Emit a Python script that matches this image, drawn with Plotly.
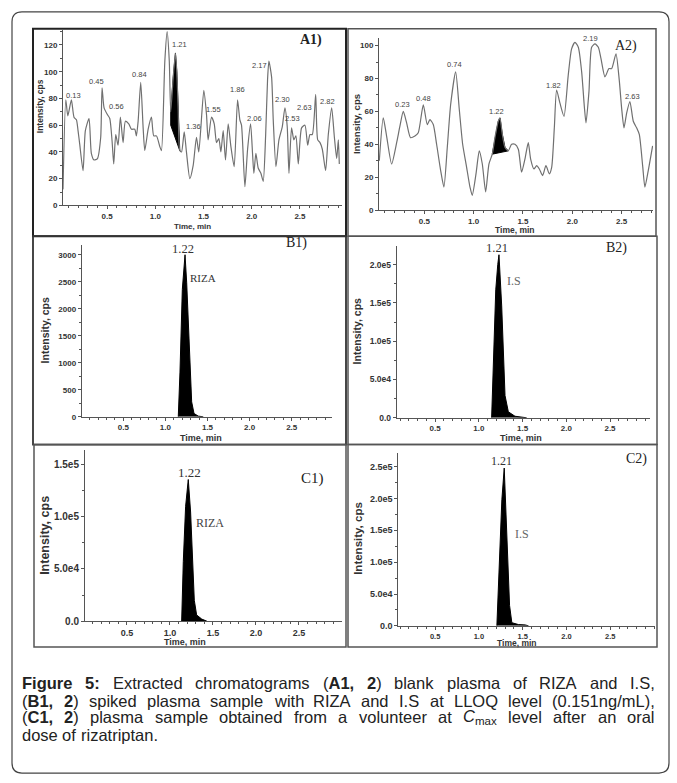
import re
import plotly.graph_objects as go

W, H = 677, 783

# ---------------- data ----------------
A1_time = [0.043,0.072,0.093,0.130,0.157,0.182,0.199,0.216,0.251,0.275,0.313,0.337,0.365,0.400,0.434,0.448,0.469,0.503,0.528,0.552,0.569,0.590,0.614,0.638,0.666,0.690,0.725,0.753,0.787,0.804,0.822,0.849,0.874,0.891,0.926,0.960,0.984,1.012,1.047,1.064,1.099,1.123,1.145,1.160,1.185,1.209,1.223,1.237,1.254,1.272,1.300,1.323,1.358,1.393,1.427,1.451,1.503,1.531,1.548,1.583,1.611,1.635,1.659,1.680,1.704,1.728,1.756,1.784,1.818,1.853,1.877,1.894,1.929,1.957,1.988,2.009,2.022,2.043,2.067,2.095,2.119,2.144,2.164,2.178,2.206,2.223,2.251,2.282,2.317,2.344,2.368,2.386,2.413,2.437,2.458,2.483,2.517,2.552,2.580,2.604,2.628,2.663,2.684,2.708,2.732,2.766,2.794,2.829,2.857,2.881,2.898,2.908]
A1_intensity = [12,79,67,79,66,64,56,46,26,56,65,39,34,35,51,88,73,68,65,48,31,53,45,66,47,63,61,57,57,52,63,92,58,41,57,66,52,52,44,41,108,130,108,70,95,114,100,73,41,40,55,40,20,30,51,40,86,68,49,66,61,47,50,40,56,34,61,44,29,79,64,60,14,42,61,38,24,39,28,24,18,52,94,108,96,64,29,49,59,73,59,24,58,49,52,31,58,60,45,53,53,83,49,47,42,26,53,73,51,35,49,31]
A1_peak_window = [1.160, 1.254]
A1_peak_baseline = [60, 41]
A1_labels = ["0.13","0.45","0.56","0.84","1.21","1.36","1.55","1.86","2.06","2.17","2.30","2.53","2.63","2.82"]
A1_label_t = [0.154,0.389,0.593,0.832,1.247,1.393,1.600,1.850,2.033,2.085,2.320,2.424,2.542,2.790]
A1_label_v = [82,93,74,98,120,59,72,87,65,105,79,65,73,78]

A2_time = [0.044,0.084,0.118,0.169,0.220,0.253,0.287,0.321,0.361,0.405,0.439,0.490,0.530,0.557,0.591,0.625,0.666,0.699,0.733,0.767,0.818,0.855,0.889,0.929,0.963,0.986,1.024,1.057,1.088,1.122,1.155,1.189,1.216,1.250,1.267,1.291,1.318,1.351,1.385,1.419,1.453,1.486,1.520,1.554,1.578,1.611,1.639,1.666,1.699,1.733,1.767,1.791,1.818,1.841,1.875,1.916,1.959,1.993,2.027,2.061,2.095,2.122,2.139,2.169,2.196,2.230,2.264,2.291,2.331,2.372,2.399,2.443,2.476,2.500,2.524,2.551,2.584,2.618,2.652,2.679,2.713,2.736,2.770,2.814]
A2_intensity = [30,56,45,28,41,51,60,53,44,45,47,64,52,55,52,40,24,14,38,64,84,61,40,26,14,9,22,36,28,11,28,34,44,54,56,46,38,36,40,40,37,23,31,41,31,25,27,25,21,27,22,26,50,73,65,57,82,98,102,99,84,63,53,72,99,101,99,92,81,86,86,95,79,62,50,59,66,54,50,46,27,14,24,39]
A2_peak_window = [1.189, 1.351]
A2_peak_baseline = [34, 36]
A2_labels = ["0.23","0.48","0.74","1.22","1.82","1.92","2.19","2.63"]
A2_label_t = [0.277,0.490,0.810,1.233,1.814,2.010,2.186,2.608]
A2_label_v = [64,68,88.5,60,76,105.6,104.6,69]

B1_time = [1.153,1.173,1.201,1.233,1.253,1.272,1.292,1.312,1.340,1.391,1.450]
B1_intensity = [0,827,2358,3000,2480,1745,827,276,61,12,0]
B2_time = [1.147,1.167,1.194,1.217,1.231,1.262,1.281,1.300,1.338,1.414,1.548]
B2_intensity = [0,81000,167000,200000,212800,146000,81000,29000,7800,2000,0]
C1_time = [1.136,1.155,1.182,1.200,1.213,1.240,1.264,1.283,1.310,1.370,1.430]
C1_intensity = [0,57000,110000,130000,135600,104500,57000,20000,6000,2000,0]
C2_time = [1.205,1.231,1.262,1.289,1.311,1.331,1.350,1.376,1.452,1.529,1.567]
C2_intensity = [0,94500,198000,247700,172000,94500,32000,5000,2000,1500,0]

peak_rt = {"B1": "1.22", "B2": "1.21", "C1": "1.22", "C2": "1.21"}
peak_name = {"B1": "RIZA", "B2": "I.S", "C1": "RIZA", "C2": "I.S"}

x_tickvals = [0.5, 1.0, 1.5, 2.0, 2.5]
x_ticktext = ["0.5", "1.0", "1.5", "2.0", "2.5"]
A1_yticks = [0, 20, 40, 60, 80, 100, 120]
A2_yticks = [0, 20, 40, 60, 80, 100]
B1_yticks = [0, 500, 1000, 1500, 2000, 2500, 3000]
B2_yticks = [0, 50000, 100000, 150000, 200000]
B2_ytext = ["0.0", "5.0e4", "1.0e5", "1.5e5", "2.0e5"]
C1_yticks = [0, 50000, 100000, 150000]
C1_ytext = ["0.0", "5.0e4", "1.0e5", "1.5e5"]
C2_yticks = [0, 50000, 100000, 150000, 200000, 250000]
C2_ytext = ["0.0", "5.0e4", "1.0e5", "1.5e5", "2.0e5", "2.5e5"]

caption_lines = [
    "<b>Figure</b> <b>5:</b> Extracted chromatograms (<b>A1,</b> <b>2</b>) blank plasma of RIZA and I.S,",
    "(<b>B1,</b> <b>2</b>) spiked plasma sample with RIZA and I.S at LLOQ level (0.151ng/mL),",
    "(<b>C1,</b> <b>2</b>) plasma sample obtained from a volunteer at <i>C</i><sub>max</sub> level after an oral",
    "dose of rizatriptan.",
]
caption_justify = [True, True, True, False]

# ---------------- helpers ----------------
def px(x):
    return x / W

def py(y):
    return 1 - y / H

SANS = "Liberation Sans, Arial, sans-serif"
SERIF = "Liberation Serif, Times New Roman, serif"

REG = {' ': 278, '(': 333, ')': 333, ',': 278, '.': 278, '/': 278, ':': 278, '-': 333,
       'A': 667, 'B': 667, 'C': 722, 'D': 722, 'E': 667, 'F': 611, 'G': 778, 'H': 722, 'I': 278,
       'J': 500, 'K': 667, 'L': 556, 'M': 833, 'N': 722, 'O': 778, 'P': 667, 'Q': 778, 'R': 722,
       'S': 667, 'T': 611, 'U': 722, 'V': 667, 'W': 944, 'X': 667, 'Y': 667, 'Z': 611,
       'a': 556, 'b': 556, 'c': 500, 'd': 556, 'e': 556, 'f': 278, 'g': 556, 'h': 556, 'i': 222,
       'j': 222, 'k': 500, 'l': 222, 'm': 833, 'n': 556, 'o': 556, 'p': 556, 'q': 556, 'r': 333,
       's': 500, 't': 278, 'u': 556, 'v': 500, 'w': 722, 'x': 500, 'y': 500, 'z': 500}
BOLD = {' ': 278, ',': 278, ':': 333, 'A': 722, 'B': 722, 'C': 722, 'F': 611, 'g': 611,
        'i': 278, 'r': 389, 'u': 611, 'e': 556}
for d in "0123456789":
    REG[d] = 556
    BOLD[d] = 556

def text_width(html, size):
    bold = False
    sub = False
    w = 0.0
    for tok in re.split(r"(<[^>]+>)", html):
        if tok.startswith("<"):
            t = tok.lower()
            if t == "<b>": bold = True
            elif t == "</b>": bold = False
            elif t == "<sub>": sub = True
            elif t == "</sub>": sub = False
            continue
        for ch in tok:
            cw = BOLD.get(ch, REG.get(ch, 556) * 1.06) if bold else REG.get(ch, 556)
            w += cw / 1000.0 * size * (0.7 if sub else 1.0)
    return w

fig = go.Figure()
annotations = []
shapes = []

panels = {
    "A1": dict(n=1, xd=(63, 342), yd=(207, 30.5), xr=(0.043, 2.936), yr=(0, 131), tick=8, xtick=8),
    "A2": dict(n=2, xd=(379, 653), yd=(211.7, 38.3), xr=(0.041, 2.818), yr=(0, 104.6), tick=8, xtick=8),
    "B1": dict(n=3, xd=(81.7, 331.7), yd=(420, 246.7), xr=(0.006, 2.975), yr=(0, 3184), tick=8, xtick=8),
    "B2": dict(n=4, xd=(396.7, 650), yd=(421, 248.3), xr=(0.062, 2.957), yr=(0, 223700), tick=8.5, xtick=8),
    "C1": dict(n=5, xd=(85, 341.7), yd=(626, 453.3), xr=(0.012, 2.997), yr=(0, 164000), tick=10, xtick=9),
    "C2": dict(n=6, xd=(398.3, 655), yd=(630.7, 456.7), xr=(0.08, 3.01), yr=(0, 271000), tick=9, xtick=7.5),
}
yticks = {
    "A1": (A1_yticks, [str(v) for v in A1_yticks], 10),
    "A2": (A2_yticks, [str(v) for v in A2_yticks], 10),
    "B1": (B1_yticks, [str(v) for v in B1_yticks], 250),
    "B2": (B2_yticks, B2_ytext, 25000),
    "C1": (C1_yticks, C1_ytext, 25000),
    "C2": (C2_yticks, C2_ytext, 25000),
}

axis_col = "#555555"
for key, p in panels.items():
    n = p["n"]
    sx = "" if n == 1 else str(n)
    xa = dict(
        domain=[px(p["xd"][0]), px(p["xd"][1])], range=list(p["xr"]), anchor="y" + sx,
        showline=True, linecolor=axis_col, linewidth=1, ticks="outside", ticklen=3,
        tickcolor=axis_col, tickmode="array", tickvals=x_tickvals, ticktext=x_ticktext,
        tickfont=dict(family=SANS, size=p["xtick"], color="#333333", weight="bold"),
        showgrid=False, zeroline=False,
        minor=dict(ticks="outside", ticklen=2, dtick=0.1, tick0=0, tickcolor=axis_col, showgrid=False),
    )
    tv, tt, mdt = yticks[key]
    ya = dict(
        domain=[py(p["yd"][0]), py(p["yd"][1])], range=list(p["yr"]), anchor="x" + sx,
        showline=True, linecolor=axis_col, linewidth=1, ticks="outside", ticklen=3,
        tickcolor=axis_col, tickmode="array", tickvals=tv, ticktext=tt,
        tickfont=dict(family=SANS, size=p["tick"], color="#333333", weight="bold"),
        showgrid=False, zeroline=False,
        minor=dict(ticks="outside", ticklen=2, dtick=mdt, tick0=0, tickcolor=axis_col, showgrid=False),
    )
    fig.layout["xaxis" + sx] = xa
    fig.layout["yaxis" + sx] = ya

# ---------------- A panels ----------------
def add_blank(key, t, v, win, base, lt, lv, labels):
    n = panels[key]["n"]
    sx = "" if n == 1 else str(n)
    seg_t = [a for a in t if win[0] <= a <= win[1]]
    seg_v = [b for a, b in zip(t, v) if win[0] <= a <= win[1]]
    poly_t = [win[0]] + seg_t + [win[1], win[0]]
    poly_v = [base[0]] + seg_v + [base[1], base[0]]
    fig.add_trace(go.Scatter(x=poly_t, y=poly_v, mode="lines", fill="toself",
                             fillcolor="black", line=dict(color="black", width=1),
                             xaxis="x" + sx, yaxis="y" + sx, showlegend=False, hoverinfo="skip"))
    fig.add_trace(go.Scatter(x=t, y=v, mode="lines",
                             line=dict(color="#707070", width=1.2, shape="spline", smoothing=0.6),
                             xaxis="x" + sx, yaxis="y" + sx, showlegend=False))
    for txt, a, b in zip(labels, lt, lv):
        annotations.append(dict(text=txt, x=a, y=b, xref="x" + sx, yref="y" + sx,
                                xanchor="center", yanchor="middle",
                                showarrow=False, font=dict(family=SANS, size=7.5, color="#444444")))

add_blank("A1", A1_time, A1_intensity, A1_peak_window, A1_peak_baseline, A1_label_t, A1_label_v, A1_labels)
add_blank("A2", A2_time, A2_intensity, A2_peak_window, A2_peak_baseline, A2_label_t, A2_label_v, A2_labels)

# ---------------- B/C panels ----------------
peaks = {"B1": (B1_time, B1_intensity), "B2": (B2_time, B2_intensity),
         "C1": (C1_time, C1_intensity), "C2": (C2_time, C2_intensity)}
rt_pos = {"B1": (1.213, 3100), "B2": (1.205, 221500), "C1": (1.227, 142600), "C2": (1.254, 258000)}
name_pos = {"B1": (1.45, 2570), "B2": (1.40, 178000), "C1": (1.465, 94000), "C2": (1.49, 144000)}
rt_size = {"B1": 12.5, "B2": 12.5, "C1": 13, "C2": 12}
name_size = {"B1": 11, "B2": 12, "C1": 12, "C2": 12}
name_col = {"B1": "#333333", "B2": "#666666", "C1": "#444444", "C2": "#666666"}
for key, (t, v) in peaks.items():
    sx = str(panels[key]["n"])
    fig.add_trace(go.Scatter(x=t, y=v, mode="lines", fill="tozeroy", fillcolor="black",
                             line=dict(color="black", width=1), xaxis="x" + sx, yaxis="y" + sx,
                             showlegend=False))
    annotations.append(dict(text=peak_rt[key], x=rt_pos[key][0], y=rt_pos[key][1],
                            xref="x" + sx, yref="y" + sx, showarrow=False,
                            xanchor="center", yanchor="middle",
                            font=dict(family=SERIF, size=rt_size[key], color="#333333")))
    annotations.append(dict(text=peak_name[key], x=name_pos[key][0], y=name_pos[key][1],
                            xref="x" + sx, yref="y" + sx, showarrow=False,
                            xanchor="center", yanchor="middle",
                            font=dict(family=SERIF, size=name_size[key], color=name_col[key])))

# ---------------- panel tags, axis titles, frames ----------------
tags = {"A1": (311, 40, 14, True), "A2": (626, 46, 14, False), "B1": (296, 245, 14, False),
        "B2": (616, 250, 14, False), "C1": (312, 482, 15, False), "C2": (636, 463, 14, False)}
for key, (x, y, s, b) in tags.items():
    annotations.append(dict(text=("<b>%s)</b>" if b else "%s)") % key, x=px(x), y=py(y),
                            xref="paper", yref="paper", showarrow=False,
                            xanchor="center", yanchor="middle",
                            font=dict(family=SERIF, size=s, color="#222222")))

xtitles = {"A1": (192, 228.5, 8), "A2": (515, 231.5, 8.5), "B1": (201, 441, 9),
           "B2": (521, 441, 9), "C1": (185, 646.5, 9), "C2": (517, 647.5, 8.5)}
for key, (x, y, s) in xtitles.items():
    annotations.append(dict(text="Time, min", x=px(x), y=py(y), xref="paper", yref="paper",
                            xanchor="center", yanchor="middle", showarrow=False,
                            font=dict(family=SANS, size=s, color="#333333", weight="bold")))

ytitles = {"A1": (40, 107, 8.5), "A2": (356, 125, 9.5), "B1": (45, 333, 10.5),
           "B2": (357, 334, 10.5), "C1": (45, 540, 12.5), "C2": (358, 543, 11.5)}
for key, (x, y, s) in ytitles.items():
    annotations.append(dict(text="Intensity, cps", x=px(x), y=py(y), xref="paper", yref="paper",
                            xanchor="center", yanchor="middle", showarrow=False, textangle=-90,
                            font=dict(family=SANS, size=s, color="#333333", weight="bold")))

frames = [(33, 29, 346, 238, "#222222", 2), (348, 29, 656, 238, "#555555", 1.5),
          (33, 238, 346, 448, "#333333", 1.8), (348, 238, 657, 448, "#555555", 1.5),
          (34, 448, 346, 652, "#555555", 1.5), (348, 448, 657, 652, "#555555", 1.5)]
for x0, y0, x1, y1, c, w in frames:
    shapes.append(dict(type="rect", xref="paper", yref="paper", x0=px(x0), x1=px(x1),
                       y0=py(y1), y1=py(y0), line=dict(color=c, width=w), fillcolor="rgba(0,0,0,0)"))

r = 10
L, T, R, B = 12, 12, 669, 779
path = ("M {a},{b} L {c},{b} Q {R},{b} {R},{d} L {R},{e} Q {R},{f} {c},{f} "
        "L {a},{f} Q {L},{f} {L},{e} L {L},{d} Q {L},{b} {a},{b} Z").format(
    a=px(L + r), b=py(T), c=px(R - r), d=py(T + r), e=py(B - r), f=py(B), R=px(R), L=px(L))
shapes.append(dict(type="path", xref="paper", yref="paper", path=path,
                   line=dict(color="#444444", width=1.2)))

# ---------------- caption (justified word by word) ----------------
CAP_SIZE = 16.5
cap_left, cap_right = 22, 655
cap_y = [688, 706, 723, 741]
for line, y, just in zip(caption_lines, cap_y, caption_justify):
    words = line.split(" ")
    widths = [text_width(w, CAP_SIZE) for w in words]
    if just and len(words) > 1:
        gap = (cap_right - cap_left - sum(widths)) / (len(words) - 1)
    else:
        gap = REG[' '] / 1000.0 * CAP_SIZE
    xcur = cap_left
    for w, wd in zip(words, widths):
        annotations.append(dict(text=w, x=px(xcur), y=py(y), xref="paper", yref="paper",
                                xanchor="left", yanchor="middle", showarrow=False,
                                borderpad=0, borderwidth=0,
                                font=dict(family=SANS, size=CAP_SIZE, color="#222222")))
        xcur += wd + gap

fig.update_layout(width=W, height=H, margin=dict(l=0, r=0, t=0, b=0),
                  paper_bgcolor="white", plot_bgcolor="rgba(0,0,0,0)",
                  annotations=annotations, shapes=shapes, showlegend=False)

fig.write_html("out.html", config={"displayModeBar": False},
               post_script="document.body.style.margin='0px';document.body.style.overflow='hidden';")
